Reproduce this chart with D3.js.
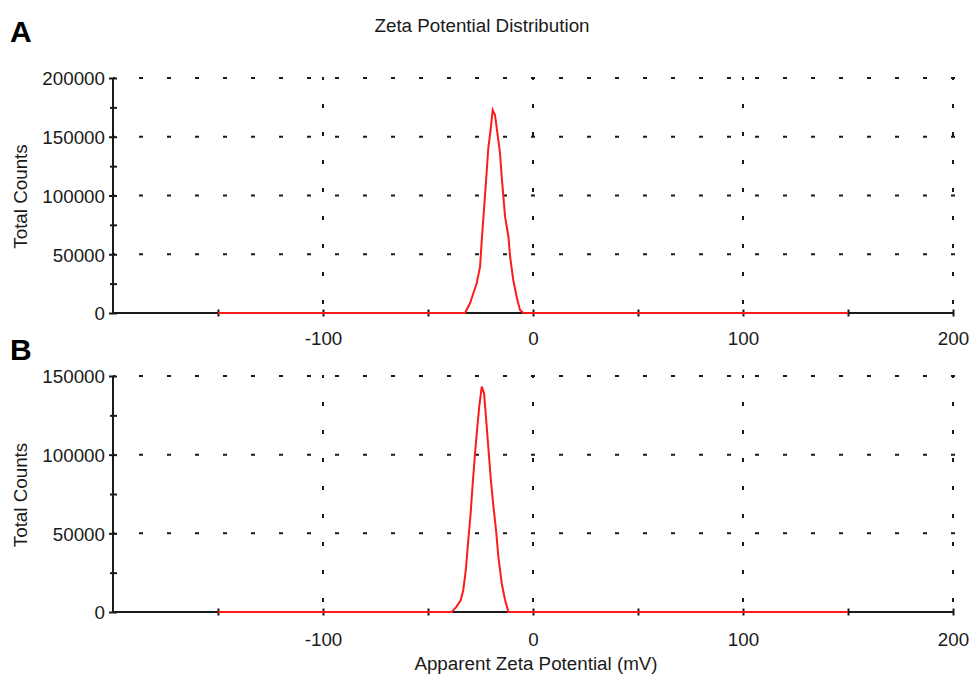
<!DOCTYPE html>
<html>
<head>
<meta charset="utf-8">
<script src="https://cdn.jsdelivr.net/npm/d3@7"></script>
<style>
  html, body { margin: 0; padding: 0; background: #fff; }
  svg text { font-family: "Liberation Sans", Arial, sans-serif; fill: #1a1a1a; }
</style>
</head>
<body>
<svg id="chart" width="971" height="678"></svg>
<script>
// ---- data ----
const xDomain = [-200, 200];
const xMajorTicks = [-100, 0, 100, 200];
const xMinorTicks = [-150, -50, 50, 150];

const yTicksA = [0, 50000, 100000, 150000, 200000];
const yMinorA = [25000, 75000, 125000, 175000];
const yTicksB = [0, 50000, 100000, 150000];
const yMinorB = [25000, 75000, 125000];

// Panel A: apparent zeta potential (mV) and total counts
const zetaA = [-150, -32.4, -30.0, -28.4, -26.8, -25.2, -24.4, -23.7, -22.9, -22.1, -21.3, -20.2, -19.2,
               -18.1, -16.5, -15.7, -14.9, -14.1, -13.3, -11.7, -10.9, -9.4, -7.8, -6.2, -4.6, 150];
const countsA = [0, 0, 8250, 16800, 25300, 39400, 62100, 79100, 99000, 118900, 140200, 155700, 172800,
                 168500, 147200, 135900, 116000, 99000, 82000, 64900, 47900, 28100, 13900, 2600, 0, 0];

// Panel B
const zetaB = [-150, -38.7, -36.4, -34.4, -33.2, -32.0, -30.8, -29.7, -28.7, -27.6, -26.5, -25.6, -24.4,
               -23.3, -22.4, -21.3, -20.2, -19.0, -17.6, -16.5, -14.9, -13.3, -11.7, 150];
const countsB = [0, 0, 3400, 7600, 14000, 26700, 45800, 62700, 81800, 100900, 117800, 130500, 143200,
                 139000, 124100, 105100, 86000, 69100, 52100, 35200, 18200, 7600, 0, 0];

const titleText = "Zeta Potential Distribution";
const xTitle = "Apparent Zeta Potential (mV)";
const yTitle = "Total Counts";

// ---- drawing ----
const svg = d3.select("#chart");
const left = 113, right = 953;
const x = d3.scaleLinear().domain(xDomain).range([left, right]);
const INK = "#1a1a1a";
const FS = 18.8;
const fmt = d => String(d);   // plain hyphen-minus like the reference

svg.append("text").attr("x", 482).attr("y", 32).attr("text-anchor", "middle")
  .attr("font-size", FS).text(titleText);
svg.append("text").attr("x", 536).attr("y", 670).attr("text-anchor", "middle")
  .attr("font-size", FS).text(xTitle);

function panel(cfg) {
  const y = d3.scaleLinear().domain([0, cfg.yMax]).range([cfg.bottom, cfg.top]);
  const g = svg.append("g");

  // panel letter
  g.append("text").attr("x", 10).attr("y", cfg.letterY)
    .attr("font-size", 30).attr("font-weight", "bold")
    .style("fill", "#000").text(cfg.letter);

  // y title
  g.append("text")
    .attr("transform", `translate(27,${(cfg.top + cfg.bottom) / 2 + 1}) rotate(-90)`)
    .attr("text-anchor", "middle").attr("font-size", FS).text(yTitle);

  // grid: horizontal (major y ticks except 0)
  cfg.yTicks.filter(v => v !== 0).forEach(v => {
    g.append("line").attr("x1", left).attr("x2", right + 2)
      .attr("y1", y(v)).attr("y2", y(v))
      .attr("stroke", INK).attr("stroke-width", 2)
      .attr("stroke-dasharray", "4,24").attr("stroke-dashoffset", -26);
  });
  // grid: vertical (major x ticks)
  xMajorTicks.forEach(v => {
    g.append("line").attr("x1", x(v)).attr("x2", x(v))
      .attr("y1", cfg.top - 1).attr("y2", cfg.bottom)
      .attr("stroke", INK).attr("stroke-width", 2)
      .attr("stroke-dasharray", "4,24").attr("stroke-dashoffset", 1);
  });

  // axes via d3
  const yAxis = d3.axisLeft(y).tickValues(cfg.yTicks).tickSize(4).tickPadding(4).tickFormat(fmt);
  const ya = g.append("g").attr("transform", `translate(${left},0)`).call(yAxis);
  ya.select(".domain").remove();
  ya.selectAll(".tick text").attr("font-size", FS).attr("dy", "0.36em")
    .style("font-family", '"Liberation Sans", Arial, sans-serif').attr("fill", INK);
  ya.selectAll(".tick line").attr("stroke", INK).attr("stroke-width", 2)
    .attr("x1", 4).attr("x2", -4);
  const yMinorAxis = d3.axisLeft(y).tickValues(cfg.yMinor).tickSize(4).tickFormat("");
  const ym = g.append("g").attr("transform", `translate(${left},0)`).call(yMinorAxis);
  ym.select(".domain").remove();
  ym.selectAll(".tick line").attr("stroke", INK).attr("stroke-width", 2)
    .attr("x1", 4).attr("x2", -3);

  const xAxis = d3.axisBottom(x).tickValues(xMajorTicks).tickSize(3.5).tickPadding(0).tickFormat(fmt);
  const xa = g.append("g").attr("transform", `translate(0,${cfg.bottom})`).call(xAxis);
  xa.select(".domain").remove();
  xa.selectAll(".tick text").attr("font-size", FS).attr("y", cfg.labelOffset).attr("dy", 0)
    .style("font-family", '"Liberation Sans", Arial, sans-serif').attr("fill", INK);
  xa.selectAll(".tick line").attr("stroke", INK).attr("stroke-width", 2).attr("y1", -3.5);
  const xMinorAxis = d3.axisBottom(x).tickValues(xMinorTicks).tickSize(3.5).tickFormat("");
  const xm = g.append("g").attr("transform", `translate(0,${cfg.bottom})`).call(xMinorAxis);
  xm.select(".domain").remove();
  xm.selectAll(".tick line").attr("stroke", INK).attr("stroke-width", 2).attr("y1", -3.5);

  // axis lines
  g.append("line").attr("x1", left).attr("x2", left).attr("y1", y(cfg.yMax)).attr("y2", cfg.bottom)
    .attr("stroke", INK).attr("stroke-width", 2);
  g.append("line").attr("x1", left).attr("x2", right).attr("y1", cfg.bottom).attr("y2", cfg.bottom)
    .attr("stroke", INK).attr("stroke-width", 2);

  // data line
  const pts = cfg.xs.map((v, i) => [v, cfg.ys[i]]);
  const line = d3.line().x(d => x(d[0])).y(d => y(d[1]));
  g.append("path").datum(pts).attr("d", line)
    .attr("fill", "none").attr("stroke", "#ff1a1a").attr("stroke-width", 2)
    .attr("stroke-linejoin", "miter");
}

panel({ letter: "A", letterY: 42, top: 78, bottom: 313, yMax: 200000,
        yTicks: yTicksA, yMinor: yMinorA, xs: zetaA, ys: countsA, labelOffset: 32 });
panel({ letter: "B", letterY: 360, top: 376, bottom: 612, yMax: 150000,
        yTicks: yTicksB, yMinor: yMinorB, xs: zetaB, ys: countsB, labelOffset: 34 });
</script>
</body>
</html>
